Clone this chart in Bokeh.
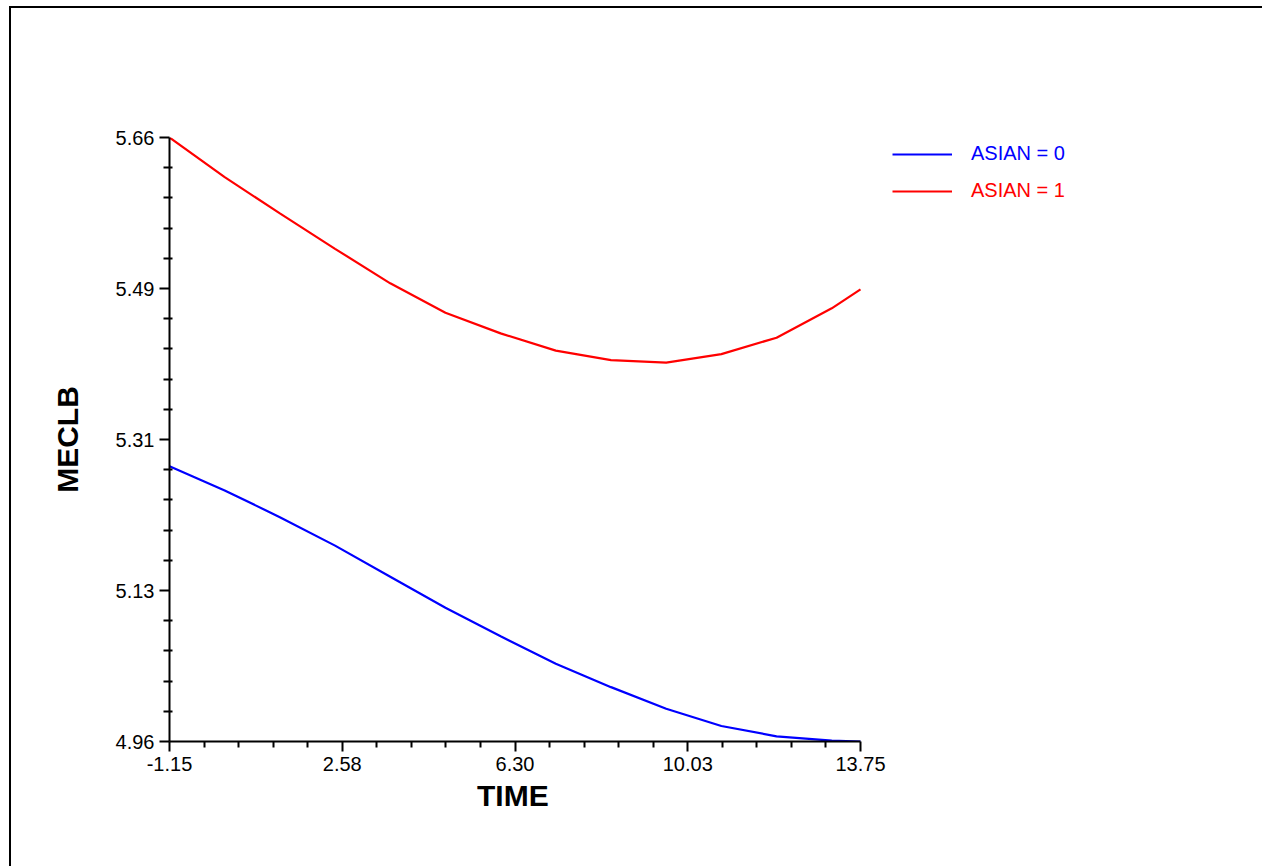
from bokeh.plotting import figure
from bokeh.models import FixedTicker, Legend, LegendItem, Range1d, Title
from bokeh.embed import file_html
from bokeh.resources import INLINE

# ---- data ----
time = [-1.15, 0.04, 1.23, 2.42, 3.61, 4.80, 5.99, 7.18, 8.37, 9.56, 10.75, 11.94, 13.13, 13.75]
asian0 = [5.279, 5.251, 5.220, 5.187, 5.151, 5.115, 5.082, 5.050, 5.023, 4.998, 4.978, 4.966, 4.961, 4.960]
asian1 = [5.660, 5.614, 5.572, 5.531, 5.491, 5.457, 5.433, 5.413, 5.402, 5.399, 5.409, 5.428, 5.462, 5.484]
series_labels = ["ASIAN = 0", "ASIAN = 1"]
series_colors = ["#0000FF", "#FF0000"]

x_ticks = [-1.15, 2.575, 6.30, 10.025, 13.75]
x_tick_labels = ["-1.15", "2.58", "6.30", "10.03", "13.75"]
y_ticks = [4.96, 5.135, 5.31, 5.485, 5.66]
y_tick_labels = ["4.96", "5.13", "5.31", "5.49", "5.66"]
x_title = "TIME"
y_title = "MECLB"

FONT = "Liberation Sans"

# ---- layout (pixels) ----
W, H = 1262, 866
LEFT, TOP, BOTTOM = 169, 137, 125
AXIS_W = 691            # drawn length of the x axis
EXTRA_RIGHT = W - LEFT - AXIS_W   # frame continues to the right for the legend
X_TITLE_HALF_W = 38     # about half the rendered width of the x title


def minor_between(ticks, n=5):
    out = []
    for a, b in zip(ticks[:-1], ticks[1:]):
        step = (b - a) / n
        out += [a + step * k for k in range(1, n)]
    return out


px_per_x = AXIS_W / (x_ticks[-1] - x_ticks[0])
x_end = x_ticks[-1] + EXTRA_RIGHT / px_per_x

p = figure(width=W, height=H, output_backend="svg", toolbar_location=None,
           x_range=Range1d(x_ticks[0], x_end),
           y_range=Range1d(y_ticks[0], y_ticks[-1]),
           min_border_left=LEFT, min_border_right=0,
           min_border_top=TOP, min_border_bottom=BOTTOM)
p.grid.visible = False
p.outline_line_color = None
p.background_fill_color = None
p.border_fill_color = None
p.styles = {
    "background": ("linear-gradient(#000, #000) 9px 6px / 2px 100% no-repeat, "
                   "linear-gradient(#000, #000) 9px 6px / 100% 2px no-repeat, #fff"),
}

for ax, ticks, labels in [(p.xaxis[0], x_ticks, x_tick_labels),
                          (p.yaxis[0], y_ticks, y_tick_labels)]:
    ax.ticker = FixedTicker(ticks=ticks, minor_ticks=minor_between(ticks))
    ax.major_label_overrides = dict(zip(ticks, labels))
    ax.bounds = (ticks[0], ticks[-1])
    ax.axis_label_text_font = FONT
    ax.axis_label_text_font_size = "30px"
    ax.axis_label_text_font_style = "bold"
    ax.axis_label_text_color = "black"
    ax.major_label_text_font = FONT
    ax.major_label_text_font_size = "20px"
    ax.major_label_text_color = "black"
    ax.axis_line_width = 2
    ax.axis_line_color = "black"
    ax.major_tick_line_width = 2
    ax.minor_tick_line_width = 2
    ax.major_tick_line_color = "black"
    ax.minor_tick_line_color = "black"
    ax.major_tick_out = 10
    ax.major_tick_in = 0

p.xaxis[0].minor_tick_out = 6
p.xaxis[0].minor_tick_in = 0
p.xaxis[0].major_label_standoff = 5

p.yaxis[0].axis_label = y_title
p.yaxis[0].minor_tick_out = 6
p.yaxis[0].minor_tick_in = 3
p.yaxis[0].major_label_standoff = 5
p.yaxis[0].axis_label_standoff = 29

# x-axis title, centred under the drawn axis (the frame runs further right)
x_title_obj = Title(text=x_title, align="left",
                    offset=AXIS_W / 2 - X_TITLE_HALF_W,
                    text_font=FONT, text_font_size="30px", text_font_style="bold",
                    text_color="black", standoff=7)
p.add_layout(x_title_obj, "below")

renderers = []
for ys, col in zip([asian0, asian1], series_colors):
    renderers.append(p.line(time, ys, line_color=col, line_width=2.2))

# legend boxes: (x, y) of their lower-left corner, relative to the frame's lower-left
for r, lab, col, yloc in zip(renderers, series_labels, series_colors, [576, 539]):
    leg = Legend(items=[LegendItem(label=lab, renderers=[r])], location=(723, yloc),
                 padding=0, margin=0, spacing=0,
                 border_line_color=None, background_fill_alpha=0,
                 glyph_width=60, glyph_height=20, label_height=20,
                 label_standoff=19, label_text_color=col,
                 label_text_font=FONT, label_text_font_size="20px")
    p.add_layout(leg)

open("out.html", "w").write(file_html(p, INLINE))
